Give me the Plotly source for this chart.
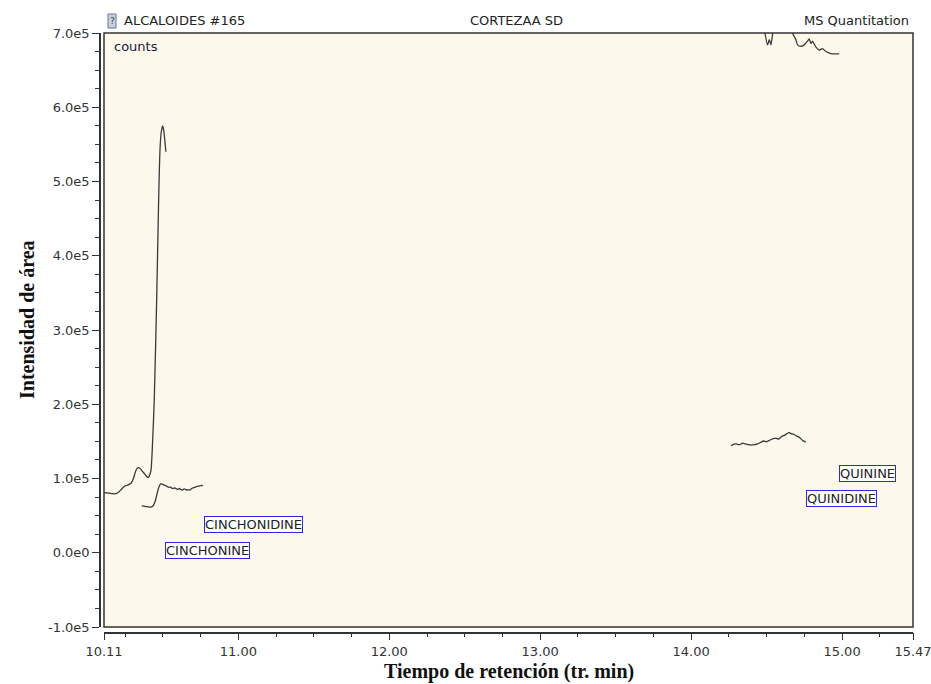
import plotly.graph_objects as go

# Extracted ion chromatograms (retention time in min, intensity in counts)
cinchonine_t = [10.11, 10.13, 10.16, 10.19, 10.21, 10.23, 10.25, 10.27, 10.29, 10.305,
                10.32, 10.335, 10.35, 10.365, 10.38, 10.395, 10.405, 10.415, 10.422,
                10.43, 10.443, 10.459, 10.472, 10.481, 10.489, 10.498, 10.505, 10.512, 10.520]
cinchonine_i = [81000, 80500, 79500, 79500, 82000, 86500, 90000, 91500, 94000, 100000,
                110000, 114500, 113500, 109500, 106000, 102000, 101500, 106000, 112000,
                140000, 206000, 341000, 475000, 543000, 566000, 575000, 570000, 557000, 540000]

cinchonidine_t = [10.36, 10.38, 10.40, 10.42, 10.435, 10.45, 10.46, 10.47, 10.48, 10.49,
                  10.50, 10.51, 10.52, 10.53, 10.54, 10.55, 10.56, 10.57, 10.58, 10.59,
                  10.60, 10.61, 10.62, 10.63, 10.64, 10.65, 10.66, 10.67, 10.68, 10.69,
                  10.70, 10.71, 10.72, 10.735, 10.75, 10.765]
cinchonidine_i = [63000, 62500, 62000, 61500, 63000, 70000, 78000, 86000, 91500, 93000,
                  92000, 91000, 90500, 89000, 88000, 88500, 87000, 86500, 87500, 86000,
                  85500, 86500, 85000, 84500, 86000, 85500, 84500, 85000, 84500, 86500,
                  87500, 88000, 89000, 89500, 90500, 90500]

quinidine_t = [14.264, 14.28, 14.30, 14.32, 14.34, 14.36, 14.38, 14.40, 14.42, 14.44,
               14.46, 14.48, 14.50, 14.52, 14.54, 14.56, 14.58, 14.60, 14.62, 14.64,
               14.65, 14.66, 14.68, 14.70, 14.72, 14.74, 14.76]
quinidine_i = [144000, 146000, 146500, 145500, 147500, 146500, 145500, 145000, 145500, 146500,
               148500, 150500, 149500, 151500, 153500, 154500, 153000, 156500, 158500, 161000,
               162000, 160500, 159500, 157000, 155000, 151000, 149000]

quinine_t = [14.485, 14.506, 14.518, 14.529, 14.544, 14.58, 14.62, 14.65, 14.672, 14.694,
             14.705, 14.727, 14.749, 14.771, 14.782, 14.794, 14.804, 14.827, 14.849, 14.87,
             14.893, 14.915, 14.937, 14.959, 14.981]
quinine_i = [705000, 684000, 691000, 684000, 705000, 735000, 750000, 730000, 700000, 691000,
             684000, 682000, 684000, 689000, 692000, 686000, 689000, 681000, 677000, 679000,
             675000, 673000, 672000, 672000, 672000]

# Compound labels: (name, retention time, intensity)
compound_labels = [("CINCHONINE", 10.514, 2700),
                   ("CINCHONIDINE", 10.772, 37700),
                   ("QUININE", 14.981, 106400),
                   ("QUINIDINE", 14.760, 72700)]

x_ticks = [10.11, 11.00, 12.00, 13.00, 14.00, 15.00, 15.47]
x_tick_text = ["10.11", "11.00", "12.00", "13.00", "14.00", "15.00", "15.47"]
y_ticks = [-100000, 0, 100000, 200000, 300000, 400000, 500000, 600000, 700000]
y_tick_text = ["-1.0e5", "0.0e0", "1.0e5", "2.0e5", "3.0e5", "4.0e5", "5.0e5", "6.0e5", "7.0e5"]

W, H = 931, 684
left, right, top, bottom = 104, 913, 33, 627


def px_x(p):
    return p / W


def px_y(p):
    return (H - p) / H


line_color = "#333333"
sans = "DejaVu Sans, Verdana, sans-serif"
serif = "Liberation Serif, Times New Roman, serif"

fig = go.Figure()
for t, i in [(cinchonine_t, cinchonine_i), (cinchonidine_t, cinchonidine_i),
             (quinidine_t, quinidine_i), (quinine_t, quinine_i)]:
    fig.add_trace(go.Scatter(x=t, y=i, mode="lines",
                             line=dict(color="#3a3a3a", width=1.3, shape="spline", smoothing=0.6),
                             showlegend=False, hoverinfo="skip"))

axis_font = dict(family=sans, size=13, color="#333333")
fig.update_layout(
    width=W, height=H,
    autosize=False,
    margin=dict(l=0, r=0, t=0, b=0, pad=0, autoexpand=False),
    paper_bgcolor="white",
    plot_bgcolor="#fdf8ec",
    xaxis=dict(domain=[px_x(left), px_x(right)], range=[10.11, 15.47],
               anchor="free", position=px_y(632.5), automargin=False,
               ticklabeloverflow="allow",
               showgrid=False, zeroline=False, showline=True,
               linecolor=line_color, linewidth=1.5,
               ticks="outside", ticklen=7, tickwidth=1.2, tickcolor=line_color,
               tickvals=x_ticks, ticktext=x_tick_text, tickfont=axis_font,
               minor=dict(ticks="outside", ticklen=4, tick0=10.0, dtick=0.25,
                          tickcolor=line_color, tickwidth=1.2, showgrid=False)),
    yaxis=dict(domain=[px_y(bottom), px_y(top)], range=[-100000, 700000],
               anchor="free", position=px_x(100), automargin=False,
               ticklabeloverflow="allow",
               showgrid=False, zeroline=False, showline=True,
               linecolor=line_color, linewidth=1.5,
               ticks="outside", ticklen=7, tickwidth=1.2, tickcolor=line_color,
               tickvals=y_ticks, ticktext=y_tick_text, tickfont=axis_font,
               minor=dict(ticks="outside", ticklen=4, tick0=0, dtick=25000,
                          tickcolor=line_color, tickwidth=1.2, showgrid=False)),
)

# Plot frame
fig.add_shape(type="rect", xref="paper", yref="paper",
              x0=px_x(left), x1=px_x(right), y0=px_y(bottom), y1=px_y(top),
              line=dict(color=line_color, width=1.5), layer="above")

# Small sample icon in the header
fig.add_shape(type="rect", xref="paper", yref="paper",
              x0=px_x(108), x1=px_x(116), y0=px_y(28), y1=px_y(14),
              line=dict(color="#6b7785", width=1), fillcolor="#c9d1dc")

annotations = [
    dict(x=px_x(112), y=px_y(21), text="?", font=dict(family=sans, size=9, color="#33415a")),
    dict(x=px_x(122), y=px_y(21), text="ALCALOIDES #165", xanchor="left",
         font=dict(family=sans, size=13, color="#222222")),
    dict(x=px_x(516), y=px_y(21), text="CORTEZAA SD",
         font=dict(family=sans, size=13, color="#222222")),
    dict(x=px_x(911), y=px_y(21), text="MS Quantitation", xanchor="right",
         font=dict(family=sans, size=13, color="#222222")),
    dict(x=px_x(112), y=px_y(47), text="counts", xanchor="left",
         font=dict(family=sans, size=13, color="#1a1a40")),
    dict(x=px_x(27), y=px_y(320), text="<b>Intensidad de área</b>", textangle=-90,
         font=dict(family=serif, size=20, color="#111111")),
    dict(x=px_x(509), y=px_y(671), text="<b>Tiempo de retención (tr. min)</b>",
         font=dict(family=serif, size=20, color="#111111")),
]
for a in annotations:
    a.update(xref="paper", yref="paper", showarrow=False, yanchor="middle")
    a.setdefault("xanchor", "center")
    fig.add_annotation(**a)

for name, t, i in compound_labels:
    fig.add_annotation(x=t, y=i, xref="x", yref="y", text=name, showarrow=False,
                       xanchor="left", yanchor="middle",
                       font=dict(family=sans, size=13, color="#222222"),
                       bordercolor="#2a2ae0", borderwidth=1, borderpad=0,
                       bgcolor="#ffffff")

fig.write_html("out.html")
